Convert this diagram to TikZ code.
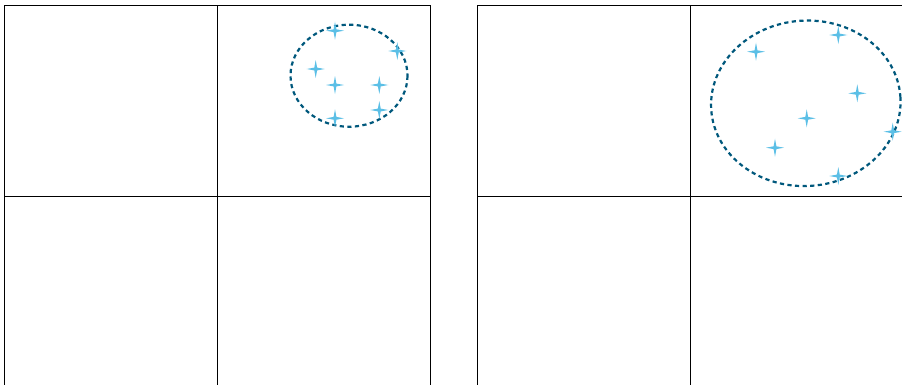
\documentclass[tikz,border=0pt]{standalone}
\begin{document}
\begin{tikzpicture}[x=1pt,y=-1pt,
  frame/.style={draw=black,line width=0.9pt},
  cluster/.style={draw=ellcol,line width=2.2pt,dash pattern=on 4.2pt off 3.4pt},
  sparkle/.pic={\fill[starcol] (-9,0) -- (-1.4,-1.4) -- (0,-9) -- (1.4,-1.4) -- (9,0) -- (1.4,1.4) -- (0,9) -- (-1.4,1.4) -- cycle;}
]
\definecolor{ellcol}{HTML}{00587C}
\definecolor{starcol}{HTML}{5BBFE6}
\useasboundingbox (0,0) rectangle (902,384);
% left panel
\draw[frame] (4,392) -- (4,5) -- (430,5) -- (430,392);
\draw[frame] (217,5) -- (217,392);
\draw[frame] (4,196) -- (430,196);
% right panel
\draw[frame] (477,392) -- (477,5) -- (910,5);
\draw[frame] (690,5) -- (690,392);
\draw[frame] (477,196) -- (910,196);
% left cluster
\draw[cluster] (349,75.7) ellipse [x radius=58.5, y radius=51];
\foreach \p in {(335,30.7),(397.3,51),(315.7,69),(335,85),(379.3,85),(379.3,110),(335,118.3)}
  \pic at \p {sparkle};
% right cluster
\draw[cluster] (805.8,103.3) ellipse [x radius=94.8, y radius=82.7, rotate=4];
\foreach \p in {(756,51.7),(838.3,35),(857.3,93.3),(806.7,118.3),(892.7,131.7),(775,147.7),(838.3,176)}
  \pic at \p {sparkle};
\end{tikzpicture}
\end{document}
